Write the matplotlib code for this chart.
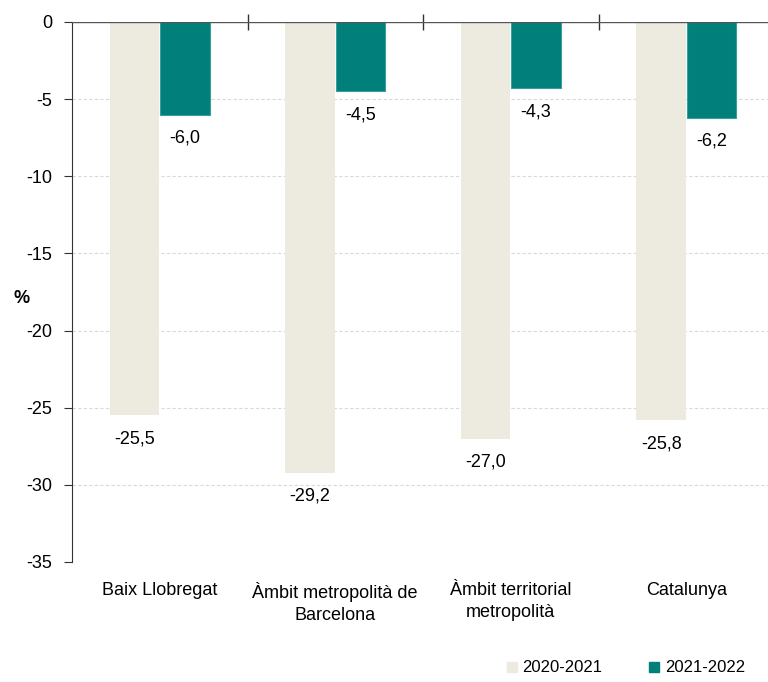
import matplotlib
matplotlib.use("Agg")
import matplotlib.pyplot as plt
import numpy as np
from matplotlib.lines import Line2D

categories = ["Baix Llobregat", "Àmbit metropolità de\nBarcelona", "Àmbit territorial\nmetropolità", "Catalunya"]
series_names = ["2020-2021", "2021-2022"]
values_2020_2021 = [-25.5, -29.2, -27.0, -25.8]
values_2021_2022 = [-6.0, -4.5, -4.3, -6.2]
yticks = [0, -5, -10, -15, -20, -25, -30, -35]

plt.rcParams['font.family'] = ['Liberation Sans', 'DejaVu Sans']
W, H = 768, 682
fig = plt.figure(figsize=(W/100, H/100), dpi=100)
left, right, top, bottom = 72, 768, 22, 562
ax = fig.add_axes([left/W, 1-bottom/H, (right-left)/W, (bottom-top)/H])

FS = 13
c1, c2 = "#EDEAE0", "#007F7B"
x = np.arange(len(categories))
w = 0.283
off = 0.143
ax.bar(x-off, values_2020_2021, w, color=c1, zorder=2)
ax.bar(x+off, values_2021_2022, w, color=c2, edgecolor="#3a9f9a", linewidth=0.8, zorder=2)

for xi, v in zip(x-off, values_2020_2021):
    ax.annotate(f"{v:.1f}".replace(".", ","), (xi, v), xytext=(0, -11), textcoords="offset points",
                ha="center", va="top", fontsize=FS)
for xi, v in zip(x+off, values_2021_2022):
    ax.annotate(f"{v:.1f}".replace(".", ","), (xi, v), xytext=(0, -11), textcoords="offset points",
                ha="center", va="top", fontsize=FS)

xl = -0.5 + (right-left)/175.5
ax.set_xlim(-0.5, xl)
ax.set_ylim(-35, 0)
ax.set_yticks(yticks)
ax.set_yticklabels([str(t) for t in yticks], fontsize=FS)
ax.yaxis.grid(True, color="#d9d9d9", linestyle=(0, (3, 2)), linewidth=0.8, zorder=0)
ax.axhline(0, color="#555555", linewidth=1.0, zorder=3)

ax.set_xticks(x)
ax.set_xticklabels(categories, fontsize=FS, linespacing=1.35)
ax.tick_params(axis="x", length=0, pad=14.5)
ax.set_xticks([0.5, 1.5, 2.5], minor=True)
ax.tick_params(axis="x", which="minor", direction="inout", length=12, color="#333333", width=1)
ax.xaxis.set_ticks_position("top")
ax.tick_params(axis="x", which="major", labelbottom=True, labeltop=False, top=False)
ax.tick_params(axis="y", direction="out", length=6, color="#333333", pad=8)

for s in ["top", "right", "bottom"]:
    ax.spines[s].set_visible(False)
ax.spines["left"].set_color("#333333")

fig.text(22/W, 1-298/H, "%", fontsize=FS, fontweight="bold", ha="center", va="center")

handles = [Line2D([], [], marker="s", linestyle="", markersize=7.5, color=c1, label=series_names[0]),
           Line2D([], [], marker="s", linestyle="", markersize=7.5, color=c2, label=series_names[1])]
fig.legend(handles=handles, loc="center right", bbox_to_anchor=(760/W, 1-668/H), ncol=2, frameon=False,
           fontsize=12, handletextpad=0.15, columnspacing=2.6, handlelength=1.0)

fig.savefig("out.png", dpi=100)
